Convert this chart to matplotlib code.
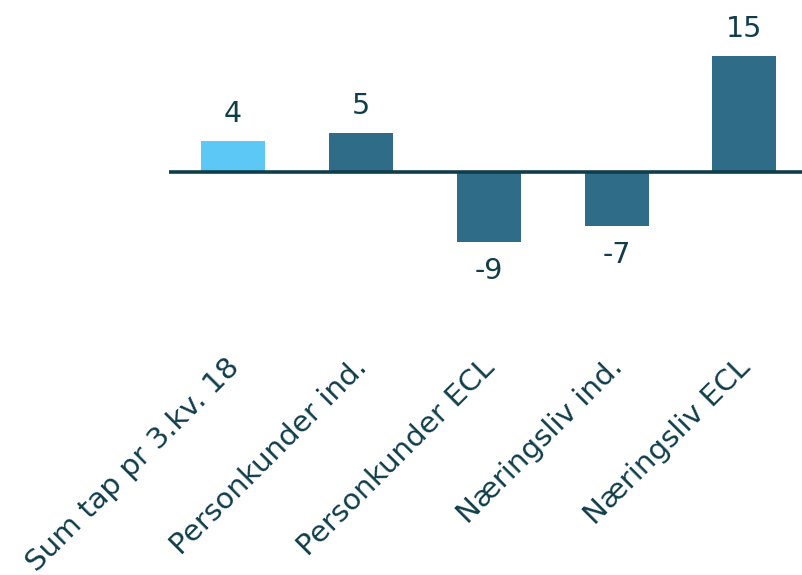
import matplotlib
matplotlib.use("Agg")
import matplotlib.pyplot as plt
from matplotlib.transforms import ScaledTranslation

categories = ["Sum tap pr 3.kv. 18", "Personkunder ind.", "Personkunder ECL",
              "Næringsliv ind.", "Næringsliv ECL"]
values = [4, 5, -9, -7, 15]
bar_colors = ["#5BC8F5", "#2E6C88", "#2E6C88", "#2E6C88", "#2E6C88"]
text_color = "#0F3D4A"

fig = plt.figure(figsize=(8.02, 5.75), dpi=100)
W, H = 802, 575
ax = fig.add_axes([169 / W, 1 - 345 / H, 1 - 169 / W, 345 / H])

x = list(range(len(categories)))
ax.bar(x, values, width=0.5, color=bar_colors, zorder=2)
ax.axhline(0, color=text_color, linewidth=2.6, zorder=3)

px_per_unit = 116 / 15
ax.set_ylim(-(345 - 172) / px_per_unit, 172 / px_per_unit)
ax.set_xlim(-0.5, 4.45)

for xi, v in zip(x, values):
    if v >= 0:
        ax.annotate(str(v), (xi, v), xytext=(0, 9.5), textcoords="offset points",
                    ha="center", va="bottom", fontsize=20.5, color=text_color)
    else:
        ax.annotate(str(v), (xi, v), xytext=(0, -11), textcoords="offset points",
                    ha="center", va="top", fontsize=20.5, color=text_color)

ax.set_xticks(x)
ax.set_xticklabels(categories, rotation=45, ha="right", va="top",
                   rotation_mode="anchor", fontsize=21.2, color=text_color)
ax.tick_params(axis="x", length=0, pad=6)
shift = ScaledTranslation(-8 / 100, 0, fig.dpi_scale_trans)
for lbl in ax.get_xticklabels():
    lbl.set_transform(lbl.get_transform() + shift)
ax.set_yticks([])
for s in ax.spines.values():
    s.set_visible(False)

fig.savefig("out.png", dpi=100)
